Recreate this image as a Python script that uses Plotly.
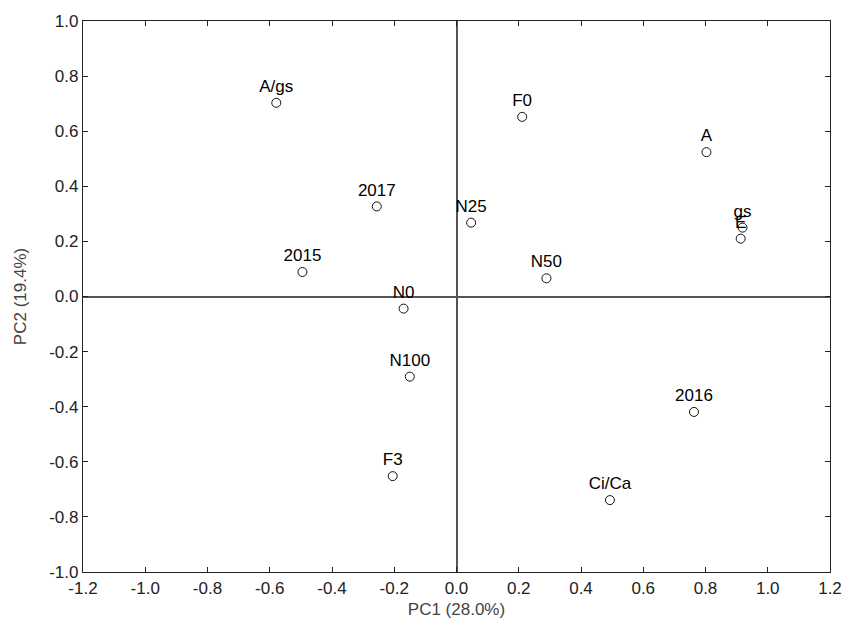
import plotly.graph_objects as go

labels = ["A/gs", "2017", "2015", "N0", "N100", "F3", "F0", "N25", "N50", "A", "gs", "E", "2016", "Ci/Ca"]
pc1 = [-0.579, -0.256, -0.495, -0.170, -0.150, -0.205, 0.211, 0.047, 0.289, 0.803, 0.919, 0.913, 0.763, 0.493]
pc2 = [0.703, 0.327, 0.089, -0.044, -0.291, -0.652, 0.652, 0.268, 0.066, 0.524, 0.250, 0.210, -0.419, -0.739]

x_ticks = [-1.2, -1.0, -0.8, -0.6, -0.4, -0.2, 0.0, 0.2, 0.4, 0.6, 0.8, 1.0, 1.2]
y_ticks = [-1.0, -0.8, -0.6, -0.4, -0.2, 0.0, 0.2, 0.4, 0.6, 0.8, 1.0]

FONT = "Liberation Sans, Arial"

fig = go.Figure()
fig.add_trace(go.Scatter(
    x=pc1, y=pc2, mode="markers+text", text=labels,
    textposition="top center",
    textfont=dict(family=FONT, size=17, color="#000"),
    marker=dict(symbol="circle", size=9, color="white", line=dict(color="#111", width=1)),
    cliponaxis=False, showlegend=False,
))

axis_common = dict(
    showgrid=False, zeroline=True, zerolinecolor="#555", zerolinewidth=1.5,
    showline=True, linecolor="#222", linewidth=1.2, mirror="ticks",
    ticks="inside", ticklen=5, tickcolor="#222", tickwidth=1,
    tickfont=dict(family=FONT, size=17, color="#222"),
    title_font=dict(family=FONT, size=17, color="#444"),
)

fig.update_xaxes(range=[-1.2, 1.2], tickvals=x_ticks, ticktext=[f"{v:.1f}" for v in x_ticks],
                 title_text="PC1 (28.0%)", title_standoff=6, **axis_common)
fig.update_yaxes(range=[-1.0, 1.0], tickvals=y_ticks, ticktext=[f"{v:.1f}" for v in y_ticks],
                 title_text="PC2 (19.4%)", title_standoff=18, **axis_common)

fig.update_layout(
    width=856, height=634, autosize=False,
    margin=dict(l=83, r=26, t=16, b=62),
    plot_bgcolor="white", paper_bgcolor="white",
)

fig.write_html("out.html")
